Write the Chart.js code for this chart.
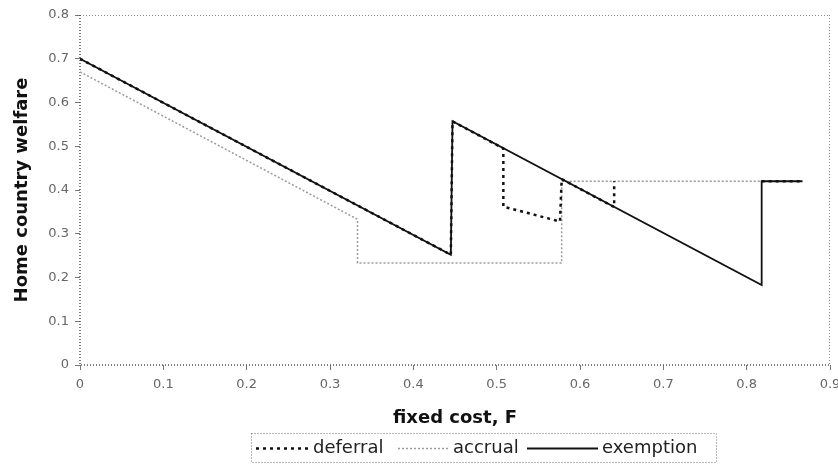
<!DOCTYPE html>
<html>
<head>
<meta charset="utf-8">
<script src="https://cdn.jsdelivr.net/npm/chart.js@4/dist/chart.umd.min.js"></script>
<style>
html,body{margin:0;padding:0;background:#fff;}
#wrap{width:838px;height:473px;position:relative;}
</style>
</head>
<body>
<div id="wrap"><canvas id="c" width="838" height="473"></canvas></div>
<script>
// ---- data ----
const xTickLabels = ['0','0.1','0.2','0.3','0.4','0.5','0.6','0.7','0.8','0.9'];
const yTickLabels = ['0','0.1','0.2','0.3','0.4','0.5','0.6','0.7','0.8'];
const seriesNames = ['deferral','accrual','exemption'];

const deferralF = [0, 0.445, 0.447, 0.508, 0.508, 0.576, 0.578, 0.641, 0.641, null, 0.818, 0.867];
const deferralW = [0.70, 0.252, 0.557, 0.495, 0.362, 0.328, 0.425, 0.361, 0.42, null, 0.42, 0.42];

const accrualF = [0, 0.333, 0.333, 0.578, 0.578, 0.818];
const accrualW = [0.67, 0.333, 0.233, 0.233, 0.42, 0.42];

const exemptionF = [0, 0.445, 0.447, 0.818, 0.818, 0.867];
const exemptionW = [0.70, 0.252, 0.557, 0.183, 0.42, 0.42];

function pts(xs, ys){ return xs.map((x,i)=>({x:x, y:ys[i]})); }

const styles = [
  {color:'#111', width:2.5, dash:[3,4]},
  {color:'#9a9a9a', width:1.5, dash:[2,2]},
  {color:'#111', width:1.8, dash:[]}
];

const plotBox = {
  id:'plotBox',
  beforeDatasetsDraw(chart){
    const {ctx, chartArea:a} = chart;
    ctx.save();
    ctx.setLineDash([1,2]);
    ctx.strokeStyle = '#8a8a8a';
    ctx.lineWidth = 1;
    ctx.beginPath();
    ctx.moveTo(a.left, a.top+0.5); ctx.lineTo(a.right, a.top+0.5);
    ctx.moveTo(a.right-0.5, a.top); ctx.lineTo(a.right-0.5, a.bottom);
    ctx.stroke();
    ctx.strokeStyle = '#555';
    ctx.lineWidth = 1.5;
    ctx.beginPath();
    ctx.moveTo(a.left, a.top); ctx.lineTo(a.left, a.bottom);
    ctx.lineTo(a.right, a.bottom);
    ctx.stroke();
    ctx.restore();
  }
};

const legendBox = {
  id:'legendBox',
  afterDraw(chart){
    const ctx = chart.ctx;
    const top = 433, bottom = 462, left = 251, right = 716;
    const cy = (top+bottom)/2 + 1;
    ctx.save();
    ctx.setLineDash([1,2]);
    ctx.strokeStyle = '#777';
    ctx.lineWidth = 1;
    ctx.strokeRect(left+0.5, top+0.5, right-left, bottom-top);
    const items = [
      {x0:256, x1:310, tx:313},
      {x0:398, x1:448, tx:453},
      {x0:527, x1:598, tx:602}
    ];
    ctx.font = '18px "DejaVu Sans"';
    ctx.textBaseline = 'middle';
    ctx.fillStyle = '#222';
    items.forEach((it,i)=>{
      const st = styles[i];
      ctx.setLineDash(st.dash);
      ctx.strokeStyle = st.color;
      ctx.lineWidth = st.width;
      ctx.beginPath();
      ctx.moveTo(it.x0, cy); ctx.lineTo(it.x1, cy);
      ctx.stroke();
      ctx.setLineDash([]);
      ctx.fillText(seriesNames[i], it.tx, cy);
    });
    ctx.restore();
  }
};

const series = [pts(deferralF, deferralW), pts(accrualF, accrualW), pts(exemptionF, exemptionW)];

new Chart(document.getElementById('c'), {
  type:'scatter',
  data:{
    datasets: series.map((d,i)=>({
      label: seriesNames[i],
      data: d,
      showLine: true,
      spanGaps: false,
      borderColor: styles[i].color,
      borderWidth: styles[i].width,
      borderDash: styles[i].dash,
      pointRadius: 0,
      pointHoverRadius: 0,
      tension: 0,
      order: [2,3,1][i]
    }))
  },
  plugins:[plotBox, legendBox],
  options:{
    responsive:false,
    animation:false,
    devicePixelRatio:1,
    layout:{padding:{left:12, right:8, top:15, bottom:44}},
    plugins:{legend:{display:false}, tooltip:{enabled:false}},
    scales:{
      x:{
        type:'linear', min:0, max:0.9,
        afterFit(s){ s.height = 64; s.paddingLeft = 0; s.paddingRight = 0; },
        afterBuildTicks(s){ s.ticks = xTickLabels.map((t,i)=>({value: i/10})); },
        ticks:{
          autoSkip:false, maxRotation:0, padding:7,
          color:'#666', font:{family:'DejaVu Sans', size:13},
          callback:(v,i)=>xTickLabels[i]
        },
        grid:{drawOnChartArea:false, drawTicks:true, tickLength:5, color:'#777'},
        border:{display:false},
        title:{display:true, text:'fixed cost, F', color:'#111',
          font:{family:'DejaVu Sans', size:18, weight:'bold'}, padding:0}
      },
      y:{
        type:'linear', min:0, max:0.8,
        afterFit(s){ s.width = 68; s.paddingTop = 0; s.paddingBottom = 0; },
        afterBuildTicks(s){ s.ticks = yTickLabels.map((t,i)=>({value: i/10})); },
        ticks:{
          autoSkip:false, padding:6,
          color:'#666', font:{family:'DejaVu Sans', size:13},
          callback:(v,i)=>yTickLabels[i]
        },
        grid:{drawOnChartArea:false, drawTicks:true, tickLength:5, color:'#777'},
        border:{display:false},
        title:{display:true, text:'Home country welfare', color:'#111',
          font:{family:'DejaVu Sans', size:18, weight:'bold'}, padding:0}
      }
    }
  }
});
</script>
</body>
</html>
